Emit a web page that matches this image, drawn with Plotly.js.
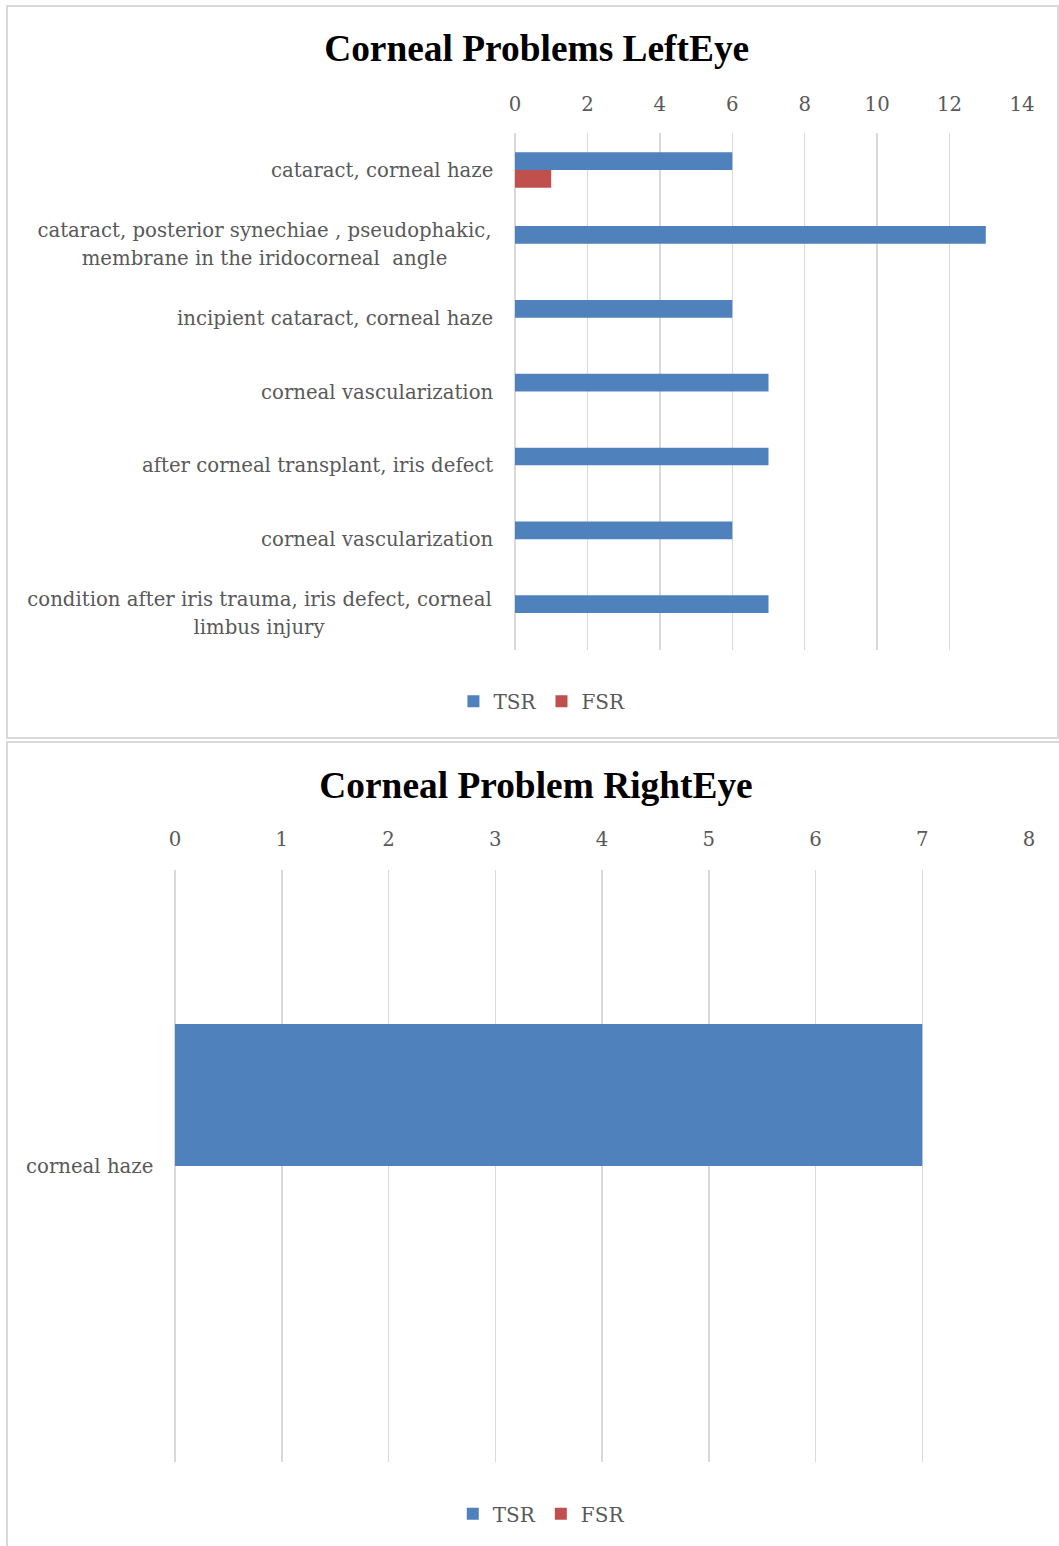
<!DOCTYPE html>
<html>
<head>
<meta charset="utf-8">
<script src="https://cdn.plot.ly/plotly-3.0.1.min.js"></script>
<style>
  html, body { margin: 0; padding: 0; background: #ffffff; overflow: hidden; }
  body { width: 1059px; height: 1546px; position: relative; }
  .panel { position: absolute; border: 2px solid #d9d9d9; background: #ffffff; }
  #leftPanel { left: 6px; top: 5px; width: 1049px; height: 730px; }
  #rightPanel { left: 6px; top: 741px; width: 1056px; height: 808px; }
</style>
</head>
<body>
<div class="panel" id="leftPanel"><div id="leftChart"></div></div>
<div class="panel" id="rightPanel"><div id="rightChart"></div></div>
<script>
// Left eye: corneal findings, counts per group
const leftCategories = [
  "cataract, corneal haze",
  "cataract, posterior synechiae , pseudophakic,<br>membrane in the iridocorneal  angle",
  "incipient cataract, corneal haze",
  "corneal vascularization",
  "after corneal transplant, iris defect",
  "corneal vascularization",
  "condition after iris trauma, iris defect, corneal<br>limbus injury"
];
const leftTSR = [6, 13, 6, 7, 7, 6, 7];
const leftFSR = [1, 0, 0, 0, 0, 0, 0];
const leftTicks = [0, 2, 4, 6, 8, 10, 12, 14];

// Right eye
const rightCategories = ["corneal haze"];
const rightTSR = [7];
const rightFSR = [0];
const rightTicks = [0, 1, 2, 3, 4, 5, 6, 7, 8];

const seriesNames = ["TSR", "FSR"];
const seriesColors = ["#4f81bd", "#c0504d"];

const labelFont = { family: "DejaVu Serif, serif", size: 19.7, color: "#595959" };
const legendFont = { family: "DejaVu Serif, serif", size: 20, color: "#595959" };
const titleFont = { family: "Liberation Serif, Times New Roman, serif", size: 37.4, color: "#000000", weight: "bold" };
const LINE_HEIGHT = 28;

// width of a text line in the label font, used to centre wrapped labels
const measureCtx = document.createElement("canvas").getContext("2d");
measureCtx.font = labelFont.size + "px 'DejaVu Serif'";
function textWidth(s) {
  return measureCtx.measureText(s.replace(/\s+/g, " ")).width;
}

function drawPanel(divId, opts) {
  const idx = opts.categories.map((_, i) => i);
  const traces = [opts.tsr, opts.fsr].map((vals, k) => ({
    type: "bar",
    orientation: "h",
    name: seriesNames[k],
    x: vals,
    y: idx,
    marker: { color: seriesColors[k] },
    hoverinfo: "x+name"
  }));

  // category labels, each line centred under the longest one
  const annotations = [];
  opts.categories.forEach((label, i) => {
    const lines = label.split("<br>");
    const mid = (lines.length - 1) / 2;
    const boxWidth = Math.ceil(Math.max(...lines.map(textWidth))) + 2;
    lines.forEach((line, j) => {
      annotations.push({
        xref: "paper", yref: "y",
        x: 0, y: i,
        xanchor: "right", yanchor: "middle",
        xshift: opts.labelShift,
        yshift: (mid - j) * LINE_HEIGHT - 0.5,
        align: "center",
        showarrow: false,
        text: line,
        font: labelFont,
        width: lines.length > 1 ? boxWidth : null
      });
    });
  });

  const layout = {
    width: opts.width,
    height: opts.height,
    margin: opts.margin,
    paper_bgcolor: "#ffffff",
    plot_bgcolor: "#ffffff",
    barmode: "group",
    bargap: 0.52,
    bargroupgap: 0,
    title: {
      text: opts.title,
      font: titleFont,
      xref: "container", yref: "container",
      x: opts.titleX, y: opts.titleY,
      xanchor: "center", yanchor: "middle"
    },
    xaxis: {
      side: "top",
      range: [0, opts.xMax],
      tickvals: opts.ticks,
      ticktext: opts.ticks.map(String),
      tickfont: labelFont,
      ticks: "",
      ticklabelstandoff: opts.tickStandoff,
      showgrid: true,
      gridcolor: "#d9d9d9",
      gridwidth: 1.5,
      zeroline: true,
      zerolinecolor: "#d9d9d9",
      zerolinewidth: 1.5,
      showline: false,
      fixedrange: true
    },
    yaxis: {
      range: [opts.categories.length - 0.5, -0.5],
      showticklabels: false,
      ticks: "",
      showgrid: false,
      zeroline: false,
      showline: false,
      fixedrange: true
    },
    showlegend: true,
    legend: {
      orientation: "h",
      xref: "container", yref: "container",
      x: opts.legendX, y: opts.legendY,
      xanchor: "center", yanchor: "middle",
      font: legendFont,
      itemwidth: 30,
      tracegroupgap: 0
    },
    annotations: annotations
  };

  Plotly.newPlot(divId, traces, layout, { displayModeBar: false, staticPlot: true });
}

drawPanel("leftChart", {
  categories: leftCategories,
  tsr: leftTSR,
  fsr: leftFSR,
  ticks: leftTicks,
  xMax: 14,
  title: "Corneal Problems LeftEye",
  width: 1049, height: 730,
  margin: { l: 507, r: 35, t: 126, b: 87, pad: 0 },
  titleX: 0.504, titleY: 0.944,
  legendX: 0.509, legendY: 0.049,
  labelShift: -20,
  tickStandoff: 17
});

drawPanel("rightChart", {
  categories: rightCategories,
  tsr: rightTSR,
  fsr: rightFSR,
  ticks: rightTicks,
  xMax: 8,
  title: "Corneal Problem RightEye",
  width: 1056, height: 808,
  margin: { l: 167, r: 35, t: 127, b: 89, pad: 0 },
  titleX: 0.5, titleY: 0.948,
  legendX: 0.505, legendY: 0.046,
  labelShift: -20,
  tickStandoff: 19
});
</script>
</body>
</html>
